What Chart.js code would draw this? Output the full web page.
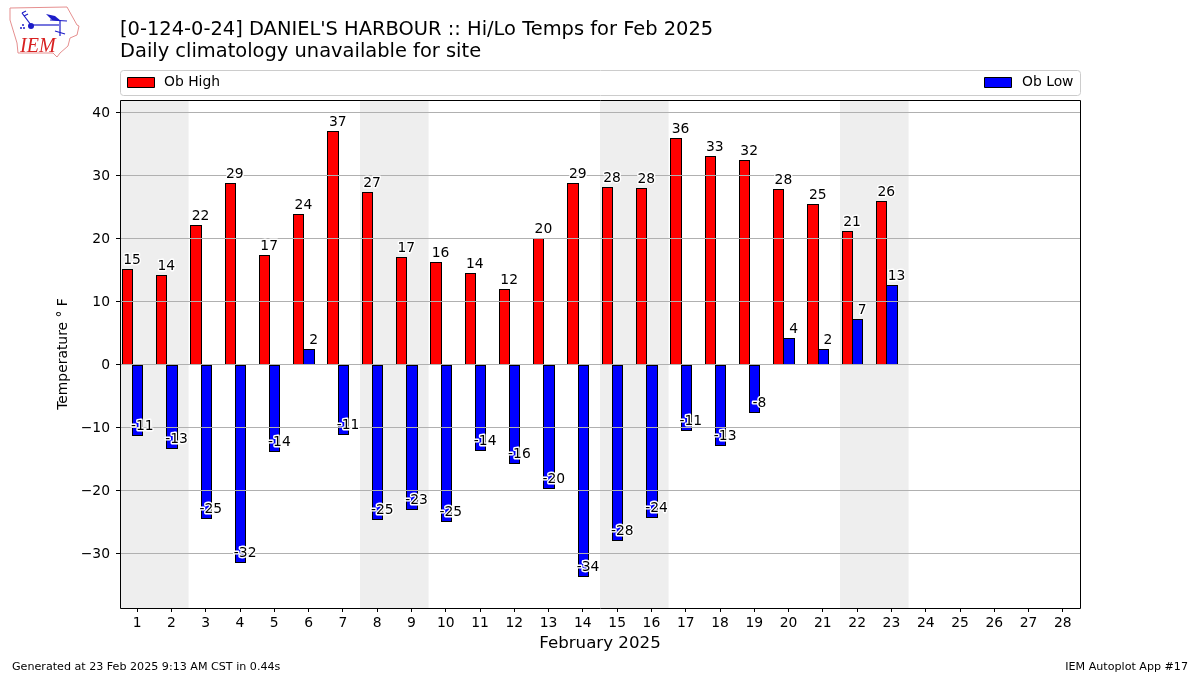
<!DOCTYPE html>
<html>
<head>
<meta charset="utf-8">
<script src="https://cdn.jsdelivr.net/npm/chart.js@4"></script>
<style>
  html, body { margin: 0; background: #fff; }
  #wrap { position: relative; width: 1200px; height: 675px; }
  #logo { position: absolute; left: 5px; top: 3px; }
</style>
</head>
<body>
<div id="wrap">
  <canvas id="chart" width="1200" height="675"></canvas>
  <svg id="logo" width="80" height="58" viewBox="0 0 80 58">
    <path d="M5 5 L62 4 L67 13 L72 22 L74 23 L72 32 L65 35 L63 43 L55 50 L52 54 L48 50 L13 50 L12 40 L5 17 Z" fill="#fff" stroke="#e58f8f" stroke-width="1"/>
    <g stroke="#1c1cc8" fill="none" stroke-width="1.2">
      <path d="M26 22 L54 22"/><path d="M26 22 L17 10"/><path d="M17 10 L21 8"/><path d="M19 13 L23 11"/>
      <path d="M55 18 L55 33"/><path d="M50 28 L60 31"/><path d="M45 17 L62 18"/>
    </g>
    <circle cx="26" cy="23" r="3" fill="#1c1cc8"/>
    <circle cx="19" cy="25" r="1" fill="#1c1cc8"/><circle cx="16" cy="25" r="1" fill="#1c1cc8"/><circle cx="18" cy="22" r="1" fill="#1c1cc8"/>
    <path d="M41 11 L50 13 L56 18 L47 17 Z" fill="#1c1cc8"/>
    <text x="15" y="49" font-family="Liberation Serif" font-style="italic" font-size="20" fill="#d82020">IEM</text>
  </svg>
</div>
<script>
var days = ['1','2','3','4','5','6','7','8','9','10','11','12','13','14','15','16','17','18','19','20','21','22','23','24','25','26','27','28'];
var obHigh = [15.1, 14.1, 22.1, 28.8, 17.3, 23.9, 37.0, 27.3, 17.1, 16.2, 14.49, 12.0, 20.0, 28.8, 28.2, 27.95, 35.9, 33.0, 32.49, 27.9, 25.4, 21.1, 25.9, null, null, null, null, null];
var obLow = [-11.4, -13.4, -24.6, -31.6, -13.9, 2.4, -11.3, -24.7, -23.2, -25.1, -13.7, -15.9, -19.8, -33.7, -28.1, -24.4, -10.6, -13.0, -7.8, 4.1, 2.49, 7.2, 12.6, null, null, null, null, null];
var weekends = [['1','2'], ['8','9'], ['15','16'], ['22','23']];
var footerLeft = 'Generated at 23 Feb 2025 9:13 AM CST in 0.44s';
var footerRight = 'IEM Autoplot App #17';

var fontName = '"DejaVu Sans"';

// grey bands behind the weekends, and snap the bars to whole pixels so the edges stay crisp
var weekendBands = {
    id: 'weekendBands',
    beforeDatasetsDraw: function (chart) {
        var ctx = chart.ctx, x = chart.scales.x, area = chart.chartArea;
        var step = x.getPixelForValue(1) - x.getPixelForValue(0);
        ctx.save();
        ctx.fillStyle = '#eeeeee';
        weekends.forEach(function (w) {
            var a = x.getPixelForValue(days.indexOf(w[0])) - step / 2;
            var b = x.getPixelForValue(days.indexOf(w[1])) + step / 2;
            ctx.fillRect(a, area.top, b - a, area.bottom - area.top);
        });
        ctx.restore();

        [0, 1].forEach(function (d) {
            chart.getDatasetMeta(d).data.forEach(function (bar) {
                if (!bar.width || isNaN(bar.y)) return;
                var l = Math.round(bar.x - bar.width / 2);
                var r = Math.round(bar.x + bar.width / 2) + 1;
                bar.labelX = bar.x + bar.width / 2;
                bar.x = (l + r) / 2;
                bar.width = r - l;
                var up = bar.y < bar.base;
                bar.y = Math.round(bar.y);
                bar.base = Math.round(bar.base) + (up ? 1 : 0);
            });
        });
    }
};

// value labels, box around the plot, wide legend and footer text
var extras = {
    id: 'extras',
    afterDraw: function (chart) {
        var ctx = chart.ctx, area = chart.chartArea;
        ctx.save();

        ctx.font = '13.89px ' + fontName;
        ctx.textAlign = 'center';
        ctx.textBaseline = 'alphabetic';
        ctx.lineJoin = 'round';
        [0, 1].forEach(function (d) {
            var values = chart.data.datasets[d].data;
            chart.getDatasetMeta(d).data.forEach(function (bar, i) {
                if (values[i] === null) return;
                var txt = String(Math.round(values[i]));
                var px = bar.labelX, py = bar.y - (values[i] < 0 ? 6 : 5);
                ctx.strokeStyle = '#fff';
                ctx.lineWidth = 2.8;
                ctx.strokeText(txt, px, py);
                ctx.fillStyle = '#000';
                ctx.fillText(txt, px, py);
            });
        });

        ctx.strokeStyle = '#000';
        ctx.lineWidth = 1;
        ctx.strokeRect(area.left + 0.5, area.top + 0.5, area.right - area.left, area.bottom - area.top);

        // legend frame
        var lx = area.left + 0.5, ly = 70.5, lw = area.right - area.left, lh = 25;
        ctx.strokeStyle = '#cccccc';
        ctx.beginPath();
        ctx.roundRect(lx, ly, lw, lh, 3);
        ctx.stroke();

        ctx.textAlign = 'left';
        ctx.textBaseline = 'middle';
        [[0, 127.5, 164], [1, 984.5, 1022]].forEach(function (it) {
            var ds = chart.data.datasets[it[0]];
            ctx.fillStyle = ds.backgroundColor;
            ctx.fillRect(it[1], 77.5, 27, 10);
            ctx.strokeStyle = '#000';
            ctx.strokeRect(it[1], 77.5, 27, 10);
            ctx.fillStyle = '#000';
            ctx.fillText(ds.label, it[2], 82);
        });

        ctx.font = '11.11px ' + fontName;
        ctx.textBaseline = 'alphabetic';
        ctx.fillText(footerLeft, 12, 670);
        ctx.textAlign = 'right';
        ctx.fillText(footerRight, 1188, 670);
        ctx.restore();
    }
};

Chart.defaults.font.family = fontName;
Chart.defaults.color = '#000';

new Chart(document.getElementById('chart').getContext('2d'), {
    type: 'bar',
    data: {
        labels: days,
        datasets: [
            { label: 'Ob High', data: obHigh, backgroundColor: '#ff0000', borderColor: '#000', borderWidth: 1, borderSkipped: false },
            { label: 'Ob Low', data: obLow, backgroundColor: '#0000ff', borderColor: '#000', borderWidth: 1, borderSkipped: false },
            // empty slot so the low bar sits on the tick, like the original
            { label: '', data: [] }
        ]
    },
    plugins: [weekendBands, extras],
    options: {
        responsive: false,
        animation: false,
        events: [],
        layout: { padding: { left: 0, right: 120, top: 0, bottom: 0 } },
        datasets: { bar: { barPercentage: 1, categoryPercentage: 0.9 } },
        plugins: {
            legend: { display: false },
            tooltip: { enabled: false },
            title: {
                display: true,
                fullSize: false,
                align: 'start',
                text: ["[0-124-0-24] DANIEL'S HARBOUR :: Hi/Lo Temps for Feb 2025", 'Daily climatology unavailable for site'],
                color: '#000',
                font: { family: fontName, size: 19.44, weight: 'normal', lineHeight: '22.5px' },
                padding: { top: 18.5, bottom: 36.5 }
            }
        },
        scales: {
            x: {
                offset: true,
                afterFit: function (s) { s.height = 67; },
                grid: { offset: false, drawOnChartArea: false, drawTicks: true, tickLength: 4, tickColor: '#000', tickWidth: 1 },
                border: { display: false },
                ticks: { maxRotation: 0, autoSkip: false, padding: 3, font: { size: 13.89 } },
                title: { display: true, text: 'February 2025', font: { size: 16.67 }, padding: { top: 0, bottom: 21 } }
            },
            y: {
                min: -38.68,
                max: 41.95,
                afterFit: function (s) { s.width = 120; },
                grid: { color: '#b0b0b0', z: 1, tickColor: '#000', tickLength: 4, tickWidth: 1 },
                border: { display: false },
                ticks: {
                    stepSize: 10,
                    includeBounds: false,
                    padding: 6,
                    labelOffset: 1,
                    font: { size: 13.89 },
                    callback: function (v) { return String(v).replace('-', '\u2212'); }
                },
                title: { display: true, text: 'Temperature \u00b0 F', font: { size: 13.89 }, padding: { top: 55, bottom: 0 } }
            }
        }
    }
});
</script>
</body>
</html>
